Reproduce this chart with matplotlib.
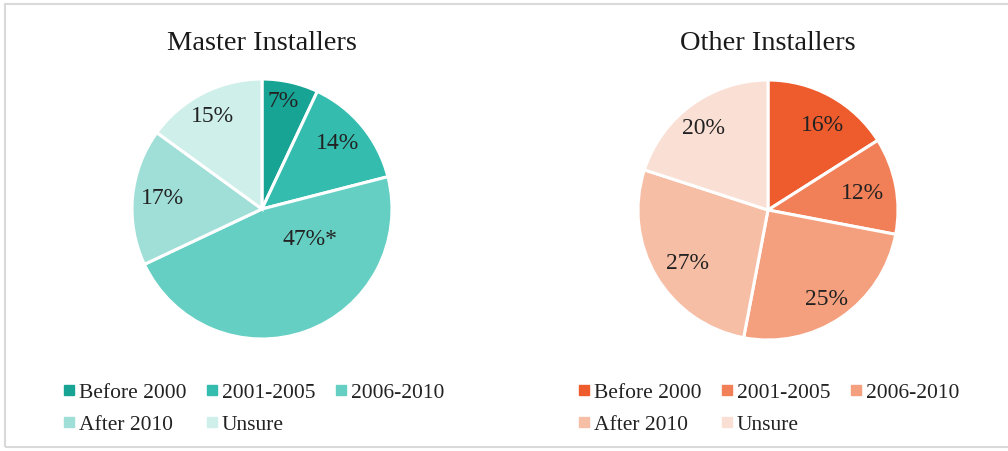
import numpy as np
import matplotlib.pyplot as plt
from matplotlib.lines import Line2D
from matplotlib.patches import Rectangle

plt.rcParams['font.family'] = ['Liberation Serif', 'DejaVu Serif']

categories = ["Before 2000", "2001-2005", "2006-2010", "After 2010", "Unsure"]

master_values = [7, 14, 47, 17, 15]
master_labels = ["7%", "14%", "47%*", "17%", "15%"]
master_colors = ["#17a495", "#34bcae", "#66cfc3", "#9fdfd7", "#cfefea"]

other_values = [16, 12, 25, 27, 20]
other_labels = ["16%", "12%", "25%", "27%", "20%"]
other_colors = ["#ee5b2d", "#f17f58", "#f4a07e", "#f7bea6", "#fadfd4"]

# label placement (fraction of radius, angle shift in degrees) per wedge
master_label_pos = [(0.84, 1.5), (0.77, 1.0), (0.44, 38.0), (0.77, -0.5), (0.81, 1.0)]
other_label_pos = [(0.77, -4.0), (0.74, -1.0), (0.82, -1.0), (0.74, 3.0), (0.80, 2.0)]

fig = plt.figure(figsize=(10.08, 4.51), dpi=100)
W, H = 1008, 451
R = 130


def draw_pie(cx, cy, values, labels, colors, label_pos, title):
    ax = fig.add_axes([(cx - R) / W, (H - cy - R) / H, 2 * R / W, 2 * R / H])
    wedges, _ = ax.pie(values, colors=colors, startangle=90, counterclock=False,
                       radius=1.0, wedgeprops=dict(edgecolor="white", linewidth=2.2))
    for w, lab, (r, shift) in zip(wedges, labels, label_pos):
        ang = np.deg2rad((w.theta1 + w.theta2) / 2 + shift)
        ax.text(r * np.cos(ang), r * np.sin(ang), lab, ha="center", va="center",
                fontsize=17, color="#222222")
    ax.set_xlim(-1, 1)
    ax.set_ylim(-1, 1)
    ax.set_aspect("equal")
    ax.axis("off")
    fig.text(cx / W, 1 - 43 / H, title, ha="center", va="center",
             fontsize=20.5, color="#1a1a1a")
    return ax


def draw_legend(x, y, colors):
    # entries are filled column by column, so reorder to read row by row
    order = [0, 3, 1, 4, 2]
    handles = [Line2D([], [], marker="s", linestyle="none", markersize=6.5,
                      markerfacecolor=colors[i], markeredgecolor=colors[i])
               for i in order]
    fig.legend(handles, [categories[i] for i in order], ncol=3,
               loc="upper left", bbox_to_anchor=(x / W, 1 - y / H),
               frameon=False, fontsize=15.5, handlelength=0.35,
               handletextpad=0.3, columnspacing=1.0, labelspacing=0.55,
               borderpad=0, labelcolor="#222222")


draw_pie(262, 209, master_values, master_labels, master_colors,
         master_label_pos, "Master Installers")
draw_pie(768, 210, other_values, other_labels, other_colors,
         other_label_pos, "Other Installers")

draw_legend(54, 372, master_colors)
draw_legend(569, 372, other_colors)

fig.patches.append(Rectangle((5 / W, 4 / H), 1.2, 1 - 8 / H, transform=fig.transFigure,
                             fill=False, edgecolor="#d9d9d9", linewidth=1.5))

fig.savefig("out.png", dpi=100)
